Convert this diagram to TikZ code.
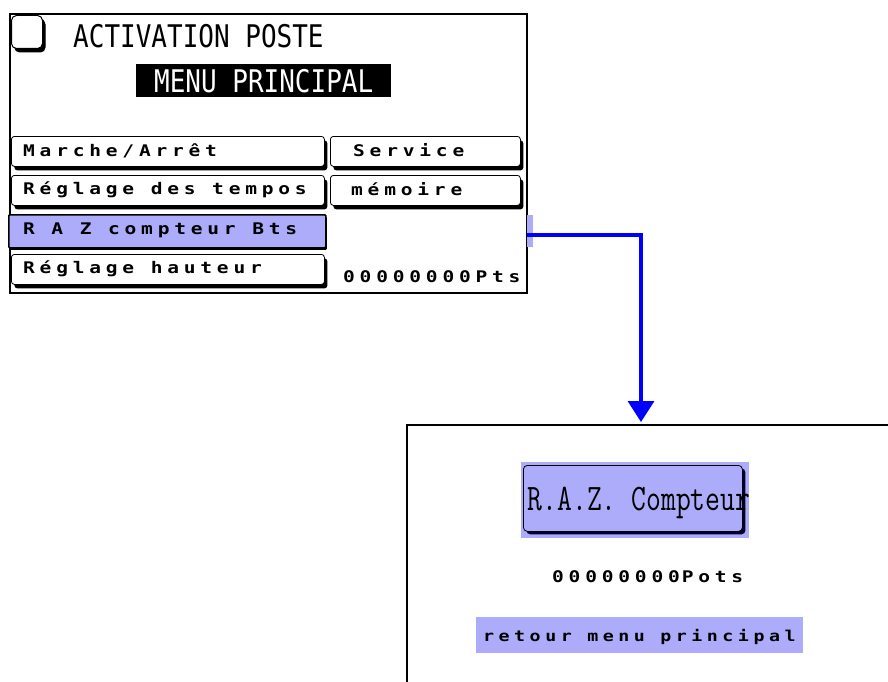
\documentclass[tikz,border=0pt]{standalone}
\usepackage{fontspec}
\setmainfont{DejaVu Sans Mono}
\newfontfamily\pixfont[LetterSpace=30,FakeStretch=1.22]{DejaVu Sans Mono Bold}
\newfontfamily\bigfont{DejaVu Sans Mono}
\usetikzlibrary{arrows.meta,shadows}
\definecolor{stip}{RGB}{172,172,250}
\definecolor{linkblue}{RGB}{0,0,255}
\tikzset{
  frame/.style={draw=black,line width=1.6pt},
  btn/.style={draw=black,line width=0.8pt,fill=white,rounded corners=3pt,
    inner sep=0pt,anchor=north west,minimum height=30pt,
    drop shadow={shadow xshift=3pt,shadow yshift=-4pt,fill=black,opacity=1}},
  lbl/.style={inner sep=0pt,anchor=west,font=\pixfont\fontsize{16pt}{16pt}\selectfont},
  smalllbl/.style={inner sep=0pt,anchor=west,font=\pixfont\fontsize{15pt}{15pt}\selectfont},
  bigtxt/.style={inner sep=0pt,font=\bigfont\fontsize{26pt}{26pt}\selectfont},
  stipbox/.style={fill=stip,inner sep=0pt,anchor=north west},
}
\begin{document}
\begin{tikzpicture}[x=1pt,y=-1pt]
\useasboundingbox (0,0) rectangle (888,682);
% ---- top screen
\node[frame,inner sep=0pt,anchor=north west,minimum width=517pt,minimum height=279pt] (screen1) at (9,13) {};
\node[btn,minimum width=31pt,minimum height=33pt,rounded corners=5pt,line width=1pt,
  drop shadow={shadow xshift=2.5pt,shadow yshift=-3pt,fill=black,opacity=1}] (check) at (11,15) {};
\node[bigtxt,anchor=west] (title) at (73,36) {\scalebox{1}[1.2]{ACTIVATION POSTE}};
\node[fill=black,inner sep=0pt,anchor=north west,minimum width=255pt,minimum height=33pt] (menubox) at (136,64) {};
\node[bigtxt,text=white] (menu) at (menubox.center) {\scalebox{1}[1.2]{MENU PRINCIPAL}};
% left column
\node[btn,minimum width=313pt] (b1) at (11,136) {};
\node[lbl] (t1) at ([xshift=12pt,yshift=1pt]b1.west) {Marche/Arrêt};
\node[btn,minimum width=313pt] (b2) at (11,175) {};
\node[lbl] (t2) at ([xshift=12pt,yshift=1pt]b2.west) {Réglage des tempos};
\node[stipbox,draw=black,line width=1.6pt,minimum width=317pt,minimum height=33pt,rounded corners=1pt,
  drop shadow={shadow xshift=1pt,shadow yshift=-2pt,fill=black,opacity=1}] (b3) at (8,214) {};
\node[lbl] (t3) at ([xshift=15pt,yshift=1pt]b3.west) {R A Z compteur Bts};
\node[btn,minimum width=313pt] (b4) at (11,254) {};
\node[lbl] (t4) at ([xshift=12pt,yshift=1pt]b4.west) {Réglage hauteur};
% right column
\node[btn,minimum width=190pt] (b5) at (330,136) {};
\node[lbl] (t5) at ([xshift=23pt,yshift=1pt]b5.west) {Service};
\node[btn,minimum width=190pt] (b6) at (330,175) {};
\node[lbl] (t6) at ([xshift=21pt,yshift=1pt]b6.west) {mémoire};
\node[lbl] (pts) at (343,277) {00000000Pts};
% strip beside screen
\node[stipbox,minimum width=6pt,minimum height=32pt] (strip) at (527,215) {};
% ---- bottom screen
\draw[frame] (407,682) -- (407,425) -- (888,425);
\coordinate (scr2) at (641,422);
\node[stipbox,minimum width=228pt,minimum height=76pt] (razbg) at (521,462) {};
\node[draw=black,line width=0.8pt,fill=stip,rounded corners=4pt,inner sep=0pt,anchor=north west,
  minimum width=219pt,minimum height=66pt,
  drop shadow={shadow xshift=3pt,shadow yshift=-3pt,fill=black!80!blue,opacity=1}] (razbtn) at (523,465) {};
\node[inner sep=0pt,font=\ttfamily\fontsize{28.8pt}{29pt}\selectfont] (raz) at (639,503) {\scalebox{1}[1.3]{R.A.Z. Compteur}};
\node[lbl] (pots) at (552,577) {00000000\kern2pt Pots};
\node[stipbox,minimum width=327pt,minimum height=36pt] (retbg) at (476,617) {};
\node[smalllbl] (ret) at (483,637) {retour menu principal};
% ---- connector
\draw[linkblue,line width=3.5pt,-{Triangle[width=26pt,length=21pt]}] ([yshift=-4pt]strip.west) -| (scr2);
\end{tikzpicture}
\end{document}
